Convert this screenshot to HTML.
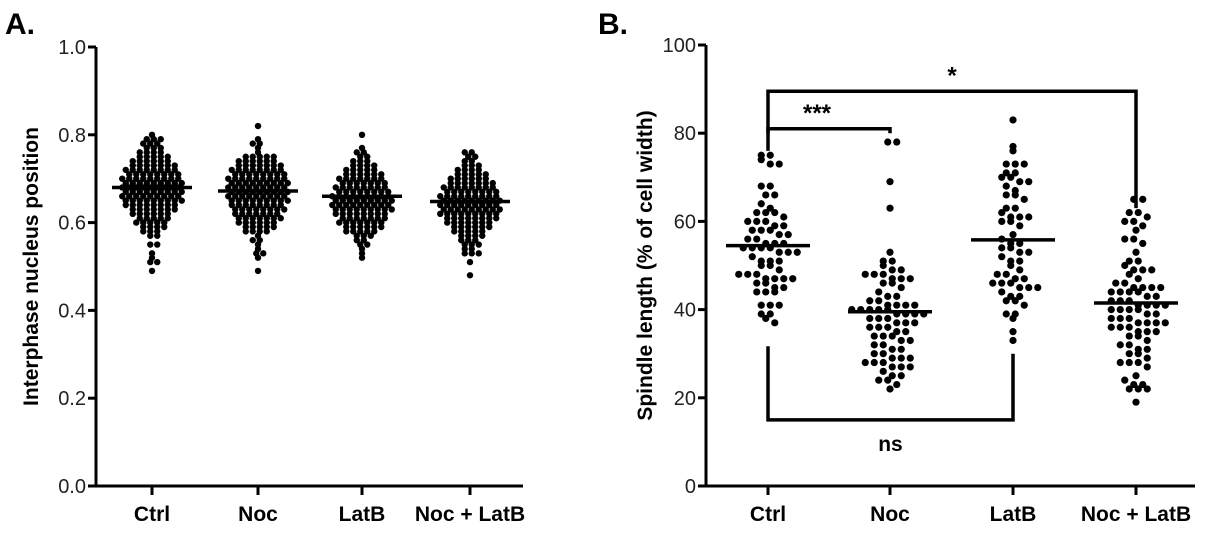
<!DOCTYPE html>
<html><head><meta charset="utf-8"><style>
body{margin:0;background:#fff;}
svg{display:block;font-family:"Liberation Sans",Arial,sans-serif;}
</style></head><body>
<svg id="chart" width="1214" height="533" viewBox="0 0 1214 533"></svg>
<script>
const categories = ["Ctrl","Noc","LatB","Noc + LatB"];
const ticksA = [0,0.2,0.4,0.6,0.8,1.0];
const tickLabelsA = ["0.0","0.2","0.4","0.6","0.8","1.0"];
const ticksB = [0,20,40,60,80,100];
const tickLabelsB = ["0","20","40","60","80","100"];
const mediansA = [0.68,0.672,0.66,0.648];
const mediansB = [54.5,39.5,55.8,41.5];
const ctrlA = [0.49,0.51,0.51,0.52,0.53,0.55,0.55,0.57,0.57,0.58,0.58,0.58,0.59,0.59,0.59,0.59,0.6,0.6,0.6,0.6,0.6,0.61,0.61,0.61,0.61,0.61,0.62,0.62,0.62,0.62,0.62,0.62,0.63,0.63,0.63,0.63,0.63,0.63,0.63,0.64,0.64,0.64,0.64,0.64,0.64,0.64,0.64,0.65,0.65,0.65,0.65,0.65,0.65,0.65,0.65,0.65,0.66,0.66,0.66,0.66,0.66,0.66,0.66,0.66,0.66,0.67,0.67,0.67,0.67,0.67,0.67,0.67,0.67,0.67,0.68,0.68,0.68,0.68,0.68,0.68,0.68,0.68,0.68,0.69,0.69,0.69,0.69,0.69,0.69,0.69,0.69,0.69,0.7,0.7,0.7,0.7,0.7,0.7,0.7,0.7,0.7,0.71,0.71,0.71,0.71,0.71,0.71,0.71,0.71,0.72,0.72,0.72,0.72,0.72,0.72,0.72,0.72,0.73,0.73,0.73,0.73,0.73,0.73,0.73,0.74,0.74,0.74,0.74,0.74,0.74,0.75,0.75,0.75,0.75,0.75,0.76,0.76,0.76,0.76,0.77,0.77,0.77,0.78,0.78,0.78,0.79,0.79,0.79,0.8];
const nocA = [0.49,0.52,0.53,0.53,0.54,0.55,0.56,0.56,0.57,0.58,0.58,0.58,0.58,0.59,0.59,0.59,0.59,0.59,0.6,0.6,0.6,0.6,0.6,0.6,0.61,0.61,0.61,0.61,0.61,0.61,0.61,0.62,0.62,0.62,0.62,0.62,0.62,0.62,0.63,0.63,0.63,0.63,0.63,0.63,0.63,0.63,0.64,0.64,0.64,0.64,0.64,0.64,0.64,0.64,0.65,0.65,0.65,0.65,0.65,0.65,0.65,0.65,0.65,0.66,0.66,0.66,0.66,0.66,0.66,0.66,0.66,0.66,0.67,0.67,0.67,0.67,0.67,0.67,0.67,0.67,0.67,0.68,0.68,0.68,0.68,0.68,0.68,0.68,0.68,0.68,0.69,0.69,0.69,0.69,0.69,0.69,0.69,0.69,0.69,0.7,0.7,0.7,0.7,0.7,0.7,0.7,0.7,0.7,0.71,0.71,0.71,0.71,0.71,0.71,0.71,0.71,0.72,0.72,0.72,0.72,0.72,0.72,0.72,0.72,0.73,0.73,0.73,0.73,0.73,0.73,0.73,0.74,0.74,0.74,0.74,0.74,0.74,0.75,0.75,0.75,0.75,0.75,0.76,0.77,0.78,0.78,0.79,0.82];
const latbA = [0.52,0.53,0.54,0.55,0.55,0.56,0.56,0.57,0.57,0.57,0.58,0.58,0.58,0.58,0.58,0.59,0.59,0.59,0.59,0.59,0.59,0.6,0.6,0.6,0.6,0.6,0.6,0.6,0.61,0.61,0.61,0.61,0.61,0.61,0.61,0.62,0.62,0.62,0.62,0.62,0.62,0.62,0.62,0.63,0.63,0.63,0.63,0.63,0.63,0.63,0.63,0.63,0.64,0.64,0.64,0.64,0.64,0.64,0.64,0.64,0.64,0.65,0.65,0.65,0.65,0.65,0.65,0.65,0.65,0.65,0.66,0.66,0.66,0.66,0.66,0.66,0.66,0.66,0.66,0.67,0.67,0.67,0.67,0.67,0.67,0.67,0.67,0.68,0.68,0.68,0.68,0.68,0.68,0.68,0.68,0.69,0.69,0.69,0.69,0.69,0.69,0.69,0.7,0.7,0.7,0.7,0.7,0.7,0.7,0.71,0.71,0.71,0.71,0.71,0.71,0.72,0.72,0.72,0.72,0.72,0.73,0.73,0.73,0.73,0.74,0.74,0.74,0.75,0.75,0.76,0.76,0.77,0.8];
const noclatbA = [0.48,0.51,0.53,0.53,0.53,0.54,0.54,0.55,0.55,0.55,0.56,0.56,0.56,0.57,0.57,0.57,0.57,0.58,0.58,0.58,0.58,0.58,0.59,0.59,0.59,0.59,0.59,0.59,0.6,0.6,0.6,0.6,0.6,0.6,0.6,0.61,0.61,0.61,0.61,0.61,0.61,0.61,0.61,0.62,0.62,0.62,0.62,0.62,0.62,0.62,0.62,0.62,0.63,0.63,0.63,0.63,0.63,0.63,0.63,0.63,0.63,0.64,0.64,0.64,0.64,0.64,0.64,0.64,0.64,0.64,0.65,0.65,0.65,0.65,0.65,0.65,0.65,0.65,0.65,0.66,0.66,0.66,0.66,0.66,0.66,0.66,0.66,0.66,0.67,0.67,0.67,0.67,0.67,0.67,0.67,0.67,0.68,0.68,0.68,0.68,0.68,0.68,0.68,0.68,0.69,0.69,0.69,0.69,0.69,0.69,0.69,0.7,0.7,0.7,0.7,0.7,0.7,0.71,0.71,0.71,0.71,0.71,0.72,0.72,0.72,0.72,0.73,0.73,0.73,0.74,0.74,0.75,0.75,0.76,0.76];
const ctrlB = [75,75,74,73,73,68,68,66,66,64,63,62,62,62,61,60,60,60,59,59,58,58,58,57,57,56,56,55,55,55,54,54,54,54,53,53,53,52,51,51,51,50,50,49,48,48,48,47,47,47,47,46,46,45,45,44,44,44,41,41,41,39,39,38,37];
const nocB = [78,78,69,63,53,51,51,50,49,49,48,48,48,47,47,47,46,46,45,44,43,43,42,42,41,41,41,41,40,40,40,40,40,39,39,39,39,38,38,38,37,37,37,36,36,36,35,35,34,34,34,33,33,32,32,31,31,30,30,29,29,29,28,28,28,27,27,27,26,25,25,24,24,23,22];
const latbB = [83,77,76,73,73,73,71,71,70,70,69,69,68,67,66,66,65,63,63,62,61,61,61,60,60,59,57,56,55,55,54,54,53,53,52,51,51,50,49,48,48,47,47,46,46,46,45,45,45,44,43,43,42,42,41,39,39,38,35,33];
const noclatbB = [65,65,62,62,61,60,60,59,58,56,56,55,53,51,51,50,49,49,49,48,47,46,46,45,45,45,45,44,44,44,44,43,43,42,42,42,41,41,41,41,40,40,40,40,39,39,38,38,38,37,37,37,37,36,36,36,35,35,35,34,34,33,32,32,31,31,30,30,29,28,28,28,27,25,24,23,23,22,22,22,19];
const brackets = [[0,1,81,76,80],[0,3,89.5,80,63],[0,2,15,31.7,30]];
const bracketLabels = ["***","*","ns"];

const svg = document.getElementById('chart');
const NS = 'http://www.w3.org/2000/svg';
function mk(tag, attrs, parent, text){
  const e = document.createElementNS(NS, tag);
  for (const k in attrs) e.setAttribute(k, attrs[k]);
  if (text !== undefined) e.textContent = text;
  (parent || svg).appendChild(e);
  return e;
}

function panel(cfg){
  const g = mk('g', {});
  
  
  const y = v => cfg.y0 - (v - cfg.vmin) / (cfg.vmax - cfg.vmin) * (cfg.y0 - cfg.y1);
  const x = i => cfg.xs[i];
  const ya = mk('line', {x1:cfg.ax, y1:cfg.y1, x2:cfg.ax, y2:cfg.y0+1.5, stroke:'#000','stroke-width':3}, g);
  
  
  const xa = mk('line', {x1:cfg.ax-8, y1:cfg.y0, x2:cfg.xend, y2:cfg.y0, stroke:'#000','stroke-width':3}, g);
  
  
  cfg.ticks.forEach((t, i) => {
    const tl = mk('line', {x1:cfg.ax-8, y1:y(t), x2:cfg.ax, y2:y(t), stroke:'#000','stroke-width':3}, g);
    
    
    const tx = mk('text', {x:cfg.ax-10, y:y(t)+7, 'text-anchor':'end','font-size':20, fill:'#222'}, g, cfg.tickLabels[i]);
    
    
  });
  categories.forEach((c, i) => {
    const tl = mk('line', {x1:x(i), y1:cfg.y0, x2:x(i), y2:cfg.y0+9, stroke:'#000','stroke-width':3}, g);
    
    
    const tx = mk('text', {x:x(i), y:cfg.y0+35, 'text-anchor':'middle','font-size':21,'font-weight':'bold'}, g, c);
    
    
  });
  const title = mk('text', {x:0, y:0, 'text-anchor':'middle','font-size':21,'font-weight':'bold', transform:`translate(${cfg.titleX},${(cfg.y0+cfg.y1)/2}) rotate(-90)`}, g, cfg.title);
  
  
  cfg.series.forEach((vals, i) => {
    const rows = {};
    vals.forEach(v => { const k = Math.round(v / cfg.step); (rows[k] = rows[k] || []).push(v); });
    for (const k in rows) {
      const n = rows[k].length;
      const off = (Math.abs(Number(k)) % 2) ? cfg.dx * 0.25 : -cfg.dx * 0.25;
      rows[k].forEach((v, j) => {
        const cx = x(i) + (j - (n - 1) / 2) * cfg.dx + (n > 1 ? off : 0);
        const d = mk('circle', {cx:cx, cy:y(v), r:cfg.r, fill:'#000'}, g);
        
        
      });
    }
    const m = mk('line', {x1:x(i)-cfg.mw, x2:x(i)+cfg.mw, y1:y(cfg.medians[i]), y2:y(cfg.medians[i]), stroke:'#000','stroke-width':3.5}, g);
    
    
  });
  return {g, x, y};
}

const lA = mk('text', {x:5, y:34, 'font-size':30, 'font-weight':'bold'}, svg, 'A.');


const lB = mk('text', {x:598, y:34, 'font-size':30, 'font-weight':'bold'}, svg, 'B.');



panel({name:'panel-a', ax:96, y0:486, y1:47, vmin:0, vmax:1, xend:523, xs:[152,258,362,470],
  ticks:ticksA, tickLabels:tickLabelsA, medians:mediansA, series:[ctrlA,nocA,latbA,noclatbA],
  title:'Interphase nucleus position', titleX:38, r:3.2, dx:7, step:0.01, mw:40});

const pB = panel({name:'panel-b', ax:706, y0:486, y1:45, vmin:0, vmax:100, xend:1195, xs:[768,890,1013,1136],
  ticks:ticksB, tickLabels:tickLabelsB, medians:mediansB, series:[ctrlB,nocB,latbB,noclatbB],
  title:'Spindle length (% of cell width)', titleX:652, r:3.6, dx:9, step:2, mw:42});

brackets.forEach((b, i) => {
  const x1 = pB.x(b[0]), x2 = pB.x(b[1]), yb = pB.y(b[2]);
  const p = mk('path', {d:`M${x1},${pB.y(b[3])} L${x1},${yb} L${x2},${yb} L${x2},${pB.y(b[4])}`, fill:'none', stroke:'#000','stroke-width':3.5});
  
  
  const below = b[2] < b[3];
  const t = mk('text', {x:(x1+x2)/2 - (i===0?12:0), y: below ? yb+31 : yb-8, 'text-anchor':'middle','font-size': below?21:24,'font-weight':'bold'}, svg, bracketLabels[i]);
  
  
});
</script>
</body></html>
